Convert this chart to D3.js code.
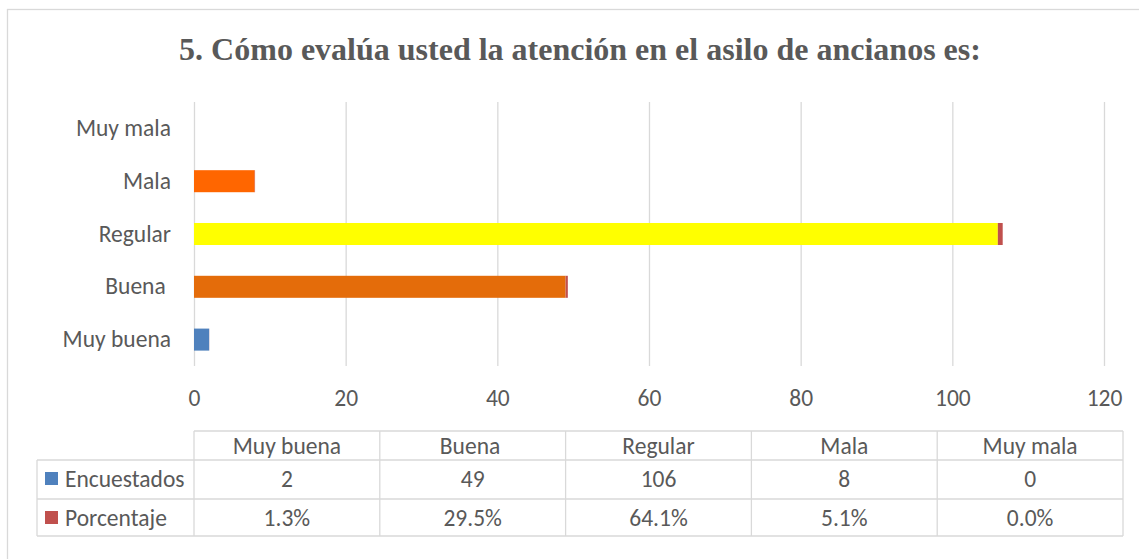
<!DOCTYPE html>
<html>
<head>
<meta charset="utf-8">
<script src="https://cdn.jsdelivr.net/npm/d3@7"></script>
<style>
  body { margin: 0; background: #fff; }
  text { fill: #595959; }
  .lbl { font-family: Carlito, Lato, "Noto Sans", sans-serif; white-space: pre; }
</style>
</head>
<body>
<div id="chart"></div>
<script>
// data
const categories = ["Muy buena", "Buena ", "Regular", "Mala", "Muy mala"];
const encuestados = [2, 49, 106, 8, 0];
const porcentaje = [0.013, 0.295, 0.641, 0.051, 0.0];
const seriesNames = ["Encuestados", "Porcentaje"];
const xTicks = [0, 20, 40, 60, 80, 100, 120];

const pointColors = ["#4F81BD", "#E46C0A", "#FFFF00", "#FF6600", "#4F81BD"];
const seriesColors = ["#4F81BD", "#C0504D"];

const svgWidth = 1139;
const svgHeight = 559;

const plot = { left: 194, right: 1104, top: 102, bottom: 366 };
const table = { left: 37, colStart: 194, right: 1123, rows: [431, 460, 499, 536] };
const fontSize = "23.5px";

const svg = d3.select("#chart")
  .append("svg")
  .attr("width", svgWidth)
  .attr("height", svgHeight);

svg.append("rect")
  .attr("width", svgWidth).attr("height", svgHeight)
  .attr("fill", "#fff");

// chart area border
svg.append("rect")
  .attr("x", 7.5).attr("y", 9.5)
  .attr("width", svgWidth + 10).attr("height", svgHeight + 10)
  .attr("fill", "none")
  .attr("stroke", "#d9d9d9")
  .attr("stroke-width", 1.3);

svg.append("text")
  .attr("x", 580)
  .attr("y", 60)
  .attr("text-anchor", "middle")
  .style("font-family", "'Liberation Serif', 'Times New Roman', serif")
  .style("font-weight", "bold")
  .style("font-size", "32px")
  .text("5. Cómo evalúa usted la atención en el asilo de ancianos es:");

const x = d3.scaleLinear().domain([0, 120]).range([plot.left, plot.right]);
const y = d3.scaleBand()
  .domain(categories.slice().reverse())
  .range([plot.top, plot.bottom])
  .paddingInner(0.583)
  .paddingOuter(0.2915);

// gridlines + tick labels
const xAxis = svg.append("g")
  .attr("class", "lbl")
  .attr("transform", `translate(0, ${plot.bottom})`)
  .call(d3.axisBottom(x).tickValues(xTicks)
    .tickSizeInner(-(plot.bottom - plot.top)).tickSizeOuter(0).tickPadding(23));
xAxis.select(".domain").remove();
xAxis.selectAll("line").attr("stroke", "#d9d9d9").attr("stroke-width", 1.3);
xAxis.selectAll("text").style("font-size", fontSize).attr("fill", "#595959");

const yAxis = svg.append("g")
  .attr("class", "lbl")
  .attr("transform", `translate(${plot.left}, 0)`)
  .call(d3.axisLeft(y).tickSize(0).tickPadding(23));
yAxis.select(".domain").remove();
yAxis.selectAll("text")
  .attr("xml:space", "preserve")
  .style("font-size", fontSize).attr("fill", "#595959");

// stacked bars
const rows = categories.map((c, i) => ({ cat: c, i: i, Encuestados: encuestados[i], Porcentaje: porcentaje[i] }));
const stacked = d3.stack().keys(seriesNames)(rows);

svg.append("g").selectAll("g")
  .data(stacked)
  .join("g")
  .each(function(layer, k) {
    d3.select(this).selectAll("rect")
      .data(layer)
      .join("rect")
      .attr("x", d => x(d[0]))
      .attr("y", d => y(d.data.cat))
      .attr("width", d => Math.max(0, x(d[1]) - x(d[0])))
      .attr("height", y.bandwidth())
      .attr("fill", d => k === 0 ? pointColors[d.data.i] : seriesColors[1]);
  });

// data table
const col = d3.scaleBand().domain(categories).range([table.colStart, table.right]);
const tbl = svg.append("g").attr("class", "lbl");
const lineColor = "#d9d9d9";

function hline(yy, x1, x2) {
  tbl.append("line").attr("x1", x1).attr("x2", x2).attr("y1", yy).attr("y2", yy)
    .attr("stroke", lineColor).attr("stroke-width", 1.3);
}
function vline(xx, y1, y2) {
  tbl.append("line").attr("x1", xx).attr("x2", xx).attr("y1", y1).attr("y2", y2)
    .attr("stroke", lineColor).attr("stroke-width", 1.3);
}

hline(table.rows[0], table.colStart, table.right);
hline(table.rows[1], table.left, table.right);
hline(table.rows[2], table.left, table.right);
hline(table.rows[3], table.left, table.right);
vline(table.left, table.rows[1], table.rows[3]);
categories.forEach(c => vline(col(c), table.rows[0], table.rows[3]));
vline(table.right, table.rows[0], table.rows[3]);

const rowMid = [446, 479, 518];
const fmtPct = d3.format(".1%");

tbl.selectAll(".head")
  .data(categories)
  .join("text")
  .attr("xml:space", "preserve")
  .attr("x", d => col(d) + col.bandwidth() / 2)
  .attr("y", rowMid[0])
  .attr("dy", "0.35em")
  .attr("text-anchor", "middle")
  .style("font-size", fontSize)
  .text(d => d);

const tableRows = [encuestados.map(String), porcentaje.map(fmtPct)];
tableRows.forEach((vals, r) => {
  tbl.selectAll(".v" + r)
    .data(vals)
    .join("text")
    .attr("x", (d, i) => col(categories[i]) + col.bandwidth() / 2)
    .attr("y", rowMid[r + 1])
    .attr("dy", "0.35em")
    .attr("text-anchor", "middle")
    .style("font-size", fontSize)
    .text(d => d);

  tbl.append("rect")
    .attr("x", 45).attr("y", rowMid[r + 1] - 7)
    .attr("width", 13).attr("height", 13)
    .attr("fill", seriesColors[r]);

  tbl.append("text")
    .attr("x", 65)
    .attr("y", rowMid[r + 1])
    .attr("dy", "0.35em")
    .style("font-size", fontSize)
    .text(seriesNames[r]);
});
</script>
</body>
</html>
